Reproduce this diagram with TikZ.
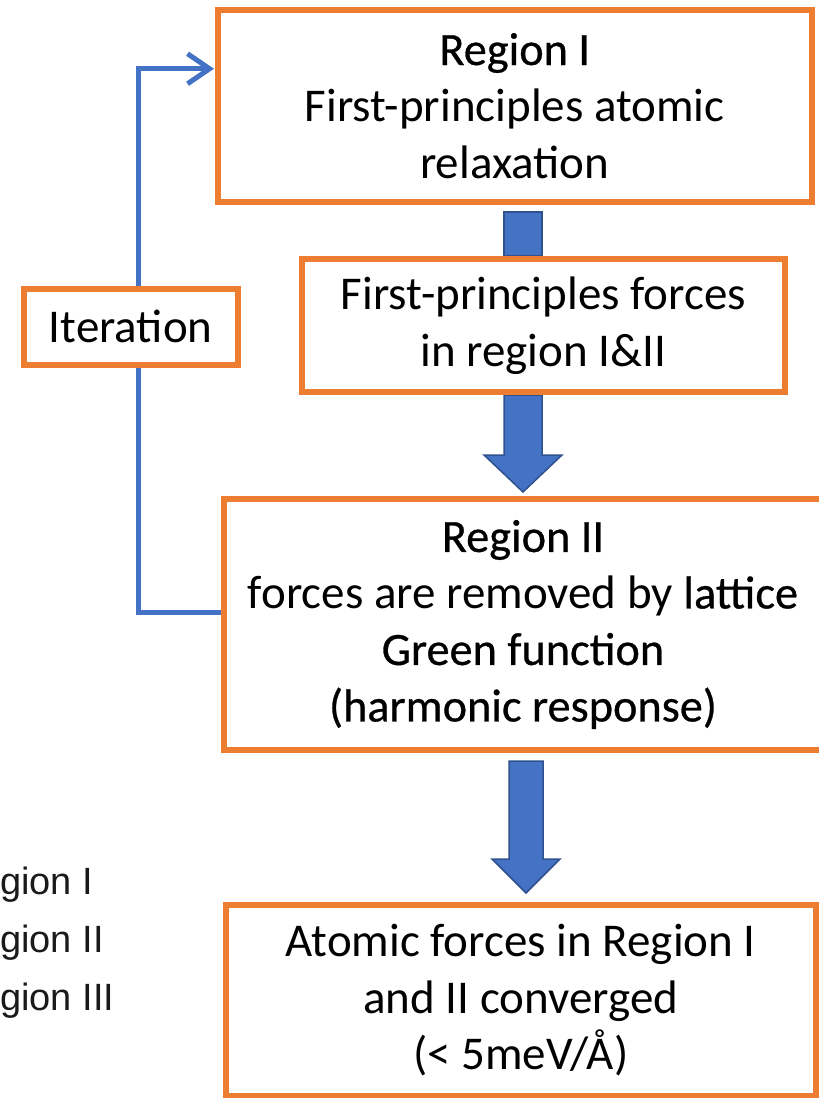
\documentclass[tikz,border=0pt]{standalone}
\usepackage{fontspec}
\setmainfont{Carlito}
\newfontfamily\strongfont[FakeBold=0.6,Scale=0.985]{Carlito}
\newfontfamily\legendfont{Liberation Sans}
\usetikzlibrary{arrows.meta,calc}
\definecolor{boxorange}{HTML}{ED7D31}
\definecolor{flowblue}{HTML}{4472C4}
\definecolor{flowedge}{HTML}{2F528F}
\definecolor{legendgray}{HTML}{1A1A1A}
\tikzset{
  stepbox/.style={draw=boxorange, line width=6pt, fill=white, inner sep=0pt,
    align=center, font=\fontsize{47}{56.5}\selectfont},
  loopline/.style={draw=flowblue, line width=5pt, line join=miter},
  blockarrow/.style={fill=flowblue, draw=flowedge, line width=1.5pt, line join=miter},
  legendtext/.style={anchor=base west, text=legendgray, inner sep=0pt,
    font=\legendfont\fontsize{38}{58}\selectfont},
}
\begin{document}
\begin{tikzpicture}[x=1pt,y=-1pt]
\useasboundingbox (0,0) rectangle (819,1098);
\clip (0,0) rectangle (819,1098);

% legend lines at the lower left
\node[legendtext] (leg1) at (0,894) {gion I};
\node[legendtext] (leg2) at (0,952) {gion II};
\node[legendtext] (leg3) at (0,1010) {gion III};

% box geometry (drawn later), needed first for the connectors
\path
  node[stepbox, minimum width=593.5pt, minimum height=192.5pt] (b1) at (514.75,105.75)
    {{\strongfont Region I}\\First-principles atomic\\relaxation}
  node[stepbox, minimum width=483pt, minimum height=133pt] (b2) at (543.5,325.5)
    {First-principles forces\\in region I\&II}
  node[stepbox, minimum width=598pt, minimum height=251pt] (b3) at (523,624.5)
    {{\strongfont Region II}\\forces are removed by {\strongfont lattice}\\{\strongfont Green function}\\{\strongfont (harmonic response)}}
  node[stepbox, minimum width=589.5pt, minimum height=191pt] (b4) at (520.75,1000.5)
    {Atomic forces in Region I\\and II converged\\(< 5meV/Å)};

% iteration loop from Region II back to Region I
\coordinate (loopstart) at ($(b3.west)+(0,-12)$);
\coordinate (loopend) at ($(b1.west)+(-1,-37)$);
\coordinate (loopturn) at (138,0 |- loopend);
\draw[loopline, -{Straight Barb[length=22pt,width=30pt]}]
  (loopstart) -| (loopturn) -- (loopend);

% block arrows between the steps
\coordinate (a1t) at (523,0 |- b1.south);
\coordinate (a1e) at (523,0 |- b2.north);
\path[blockarrow] ($(a1t)+(-19,7)$) rectangle ($(a1e)+(19,0)$);

\coordinate (a2t) at (523,0 |- b2.south);
\coordinate (a2e) at (523,0 |- b3.north);
\path[blockarrow] ($(a2t)+(-19,0)$) -- ($(a2t)+(19,0)$) -- ($(a2e)+(19,-41)$)
  -- ($(a2e)+(39,-41)$) -- ($(a2e)+(0,-4)$) -- ($(a2e)+(-39,-41)$)
  -- ($(a2e)+(-19,-41)$) -- cycle;

\coordinate (a3t) at (526,0 |- b3.south);
\coordinate (a3e) at (526,0 |- b4.north);
\path[blockarrow] ($(a3t)+(-17,8)$) -- ($(a3t)+(17,8)$) -- ($(a3e)+(17,-43)$)
  -- ($(a3e)+(34,-43)$) -- ($(a3e)+(0,-9)$) -- ($(a3e)+(-34,-43)$)
  -- ($(a3e)+(-17,-43)$) -- cycle;

% the step boxes on top
\node[stepbox, minimum width=213.5pt, minimum height=76.5pt] (it) at (130.75,326.75) {Iteration};
\node[stepbox, minimum width=593.5pt, minimum height=192.5pt] at (b1)
  {{\strongfont Region I}\\First-principles atomic\\relaxation};
\node[stepbox, minimum width=483pt, minimum height=133pt] at (b2)
  {First-principles forces\\in region I\&II};
\node[stepbox, minimum width=598pt, minimum height=251pt] at (b3)
  {{\strongfont Region II}\\forces are removed by {\strongfont lattice}\\{\strongfont Green function}\\{\strongfont (harmonic response)}};
\node[stepbox, minimum width=589.5pt, minimum height=191pt] at (b4)
  {Atomic forces in Region I\\and II converged\\(< 5meV/Å)};
\end{tikzpicture}
\end{document}
